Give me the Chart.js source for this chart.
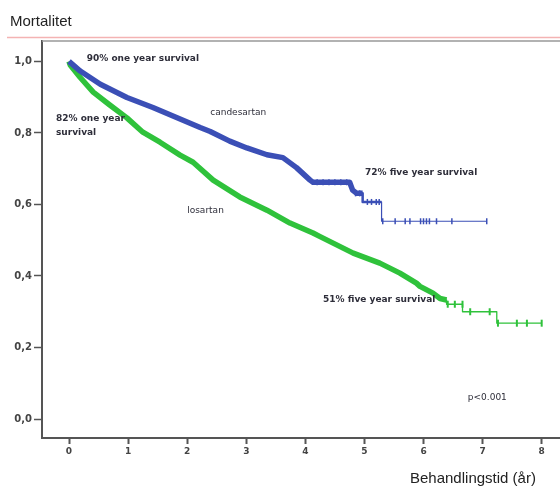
<!DOCTYPE html>
<html>
<head>
<meta charset="utf-8">
<script src="https://cdn.jsdelivr.net/npm/chart.js@4"></script>
<style>
  html, body { margin: 0; padding: 0; background: #fff; }
  canvas { display: block; }
</style>
</head>
<body>
<canvas id="myChart" width="560" height="486"></canvas>
<script>
// candesartan (blå)
const candesartanTid = [0, 0.19, 0.53, 0.98, 1.42, 1.82, 2.22, 2.39, 2.72, 3.01, 3.35, 3.62, 3.85, 4.08, 4.13, 4.75, 4.80, 4.87, 4.97, 4.97, 5.29, 5.29, 7.07];
const candesartanOverlevelse = [1.0, 0.973, 0.936, 0.899, 0.871, 0.843, 0.815, 0.804, 0.777, 0.758, 0.739, 0.731, 0.703, 0.668, 0.662, 0.662, 0.64, 0.631, 0.631, 0.607, 0.607, 0.553, 0.553];
const candesartanCensurTid = [4.2, 4.3, 4.4, 4.5, 4.6, 4.7, 4.85, 4.92, 5.05, 5.12, 5.2, 5.25, 5.31, 5.52, 5.69, 5.77, 5.95, 6.0, 6.05, 6.1, 6.22, 6.48, 7.07];
const candesartanCensurVerdi = [0.662, 0.662, 0.662, 0.662, 0.662, 0.662, 0.631, 0.631, 0.607, 0.607, 0.607, 0.607, 0.553, 0.553, 0.553, 0.553, 0.553, 0.553, 0.553, 0.553, 0.553, 0.553, 0.553];

// losartan (grønn)
const losartanTid = [0, 0.02, 0.19, 0.41, 0.69, 0.98, 1.25, 1.54, 1.88, 2.10, 2.44, 2.89, 3.35, 3.74, 4.13, 4.25, 4.81, 5.26, 5.60, 5.88, 5.94, 6.16, 6.28, 6.39, 6.39, 6.66, 6.66, 7.24, 7.24, 8.0];
const losartanOverlevelse = [1.0, 0.99, 0.955, 0.914, 0.878, 0.842, 0.802, 0.774, 0.738, 0.718, 0.668, 0.621, 0.584, 0.548, 0.520, 0.510, 0.464, 0.436, 0.408, 0.380, 0.371, 0.352, 0.337, 0.333, 0.321, 0.321, 0.300, 0.300, 0.268, 0.268];
const losartanCensurTid = [6.41, 6.53, 6.66, 6.79, 7.12, 7.26, 7.58, 7.75, 8.0];
const losartanCensurVerdi = [0.321, 0.321, 0.321, 0.300, 0.300, 0.268, 0.268, 0.268, 0.268];

const xTicks = [0, 1, 2, 3, 4, 5, 6, 7, 8];
const yTicks = [0, 0.2, 0.4, 0.6, 0.8, 1.0];

// tekster i plottet: [tekst, x, y, fet]
const merknader = [
  ["90% one year survival", 0.30, 1.009, true],
  ["82% one year", -0.22, 0.841, true],
  ["survival", -0.22, 0.800, true],
  ["candesartan", 2.39, 0.858, false],
  ["losartan", 2.0, 0.584, false],
  ["72% five year survival", 5.01, 0.688, true],
  ["51% five year survival", 4.30, 0.335, true],
  ["p<0.001", 6.75, 0.061, false],
];

const blaa = "#3b4fb6";
const gronn = "#2fc23b";

function punkter(xs, ys) {
  return xs.map((x, i) => ({ x: x, y: ys[i] }));
}

const tekstPlugin = {
  id: "tekster",
  afterDraw(chart) {
    const ctx = chart.ctx;
    const a = chart.chartArea;
    const sx = chart.scales.x;
    const sy = chart.scales.y;
    ctx.save();
    // linjer øverst
    ctx.strokeStyle = "#f4b3b3";
    ctx.lineWidth = 1.5;
    ctx.beginPath();
    ctx.moveTo(7, 37.5);
    ctx.lineTo(560, 37.5);
    ctx.stroke();
    ctx.strokeStyle = "#999";
    ctx.lineWidth = 1.5;
    ctx.beginPath();
    ctx.moveTo(a.left, a.top);
    ctx.lineTo(560, a.top);
    ctx.stroke();

    ctx.fillStyle = "#222";
    ctx.font = "15px 'Liberation Sans', Arial, sans-serif";
    ctx.textAlign = "left";
    ctx.textBaseline = "alphabetic";
    ctx.fillText("Mortalitet", 10, 26);
    ctx.fillText("Behandlingstid (år)", 410, 483);

    ctx.textBaseline = "middle";
    merknader.forEach((m) => {
      ctx.font = (m[3] ? "bold " : "") + "9px 'DejaVu Sans', sans-serif";
      ctx.fillStyle = "#2e2e3a";
      ctx.fillText(m[0], sx.getPixelForValue(m[1]), sy.getPixelForValue(m[2]));
    });
    ctx.restore();
  },
};

const ctx = document.getElementById("myChart");

const myChart = new Chart(ctx, {
  type: "line",
  data: {
    datasets: [
      {
        label: "candesartan",
        data: punkter(candesartanTid, candesartanOverlevelse),
        borderColor: blaa,
        pointRadius: 0,
        borderJoinStyle: "round",
        segment: {
          borderWidth: (c) => (c.p0.parsed.x < 4.97 ? 5.5 : c.p0.parsed.x < 5.29 ? 2.5 : 1.2),
        },
      },
      {
        label: "losartan",
        data: punkter(losartanTid, losartanOverlevelse),
        borderColor: gronn,
        pointRadius: 0,
        borderJoinStyle: "round",
        segment: {
          borderWidth: (c) => (c.p0.parsed.x < 6.3 ? 5.5 : 1.3),
        },
      },
      {
        label: "candesartan sensur",
        data: punkter(candesartanCensurTid, candesartanCensurVerdi),
        showLine: false,
        pointStyle: "line",
        rotation: 90,
        pointRadius: 3,
        borderWidth: 1.5,
        borderColor: blaa,
      },
      {
        label: "losartan sensur",
        data: punkter(losartanCensurTid, losartanCensurVerdi),
        showLine: false,
        pointStyle: "line",
        rotation: 90,
        pointRadius: 3.5,
        borderWidth: 2,
        borderColor: gronn,
      },
    ],
  },
  options: {
    responsive: false,
    animation: false,
    devicePixelRatio: 1,
    layout: { autoPadding: false, padding: { top: 41, bottom: 28, left: 0, right: 0 } },
    plugins: {
      legend: { display: false },
      tooltip: { enabled: false },
    },
    scales: {
      x: {
        type: "linear",
        min: -0.457,
        max: 8.31,
        afterBuildTicks: (s) => { s.ticks = xTicks.map((v) => ({ value: v })); },
        afterFit: (s) => { s.height = 20; s.paddingLeft = 0; s.paddingRight = 0; },
        grid: { drawOnChartArea: false, tickLength: 6, tickWidth: 2, tickColor: "#555" },
        border: { color: "#555", width: 2 },
        ticks: {
          color: "#444",
          padding: 2,
          maxRotation: 0,
          font: { family: "'DejaVu Sans', sans-serif", size: 9, weight: "bold" },
          callback: (v) => String(v),
        },
      },
      y: {
        min: -0.053,
        max: 1.057,
        afterBuildTicks: (s) => { s.ticks = yTicks.map((v) => ({ value: v })); },
        afterFit: (s) => { s.width = 42; s.paddingTop = 0; s.paddingBottom = 0; },
        grid: { drawOnChartArea: false, tickLength: 8, tickWidth: 1.5, tickColor: "#555" },
        border: { color: "#555", width: 2 },
        ticks: {
          color: "#444",
          padding: 2,
          font: { family: "'DejaVu Sans', sans-serif", size: 10, weight: "bold" },
          callback: (v) => v.toFixed(1).replace(".", ","),
        },
      },
    },
  },
  plugins: [tekstPlugin],
});
</script>
</body>
</html>
